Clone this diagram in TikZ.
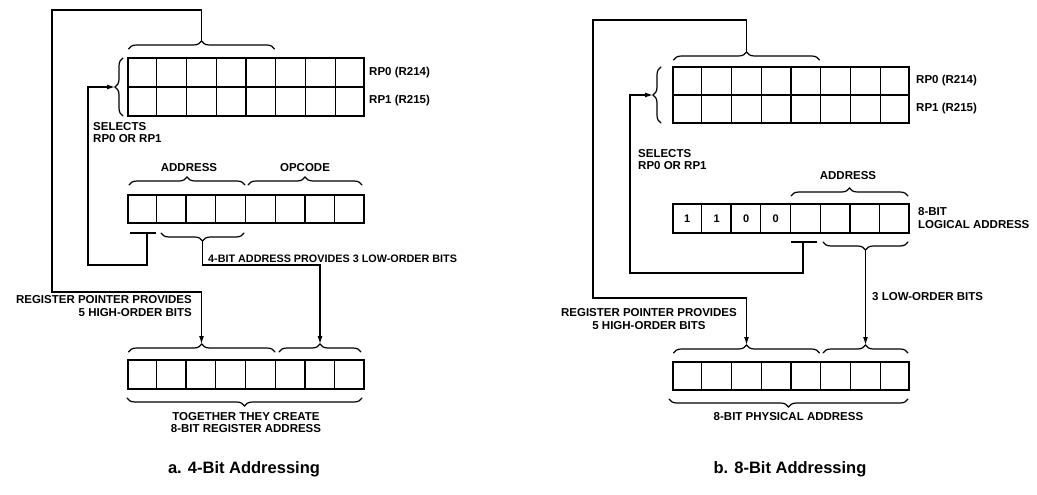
\documentclass[tikz,border=0pt]{standalone}
\usepackage{fontspec}
\setmainfont{Liberation Sans}
\usetikzlibrary{decorations.pathreplacing,arrows.meta,calc}
\newcommand\splitcells[1]{%
  \foreach \i in {1,...,7}{\draw[cell] ($(#1.north west)!{\i/8}!(#1.north east)$) -- ($(#1.south west)!{\i/8}!(#1.south east)$);}}
\begin{document}
\begin{tikzpicture}[x=1pt,y=-1pt,
  lbl/.style={font=\fontsize{11.5}{12.5}\selectfont\bfseries, inner sep=0pt},
  lbls/.style={font=\fontsize{10.8}{12.5}\selectfont\bfseries, inner sep=0pt},
  bitlbl/.style={font=\fontsize{11}{12}\selectfont\bfseries, inner sep=0pt},
  capt/.style={font=\fontsize{16.5}{18}\selectfont\bfseries, inner sep=0pt},
  reg/.style={draw, line width=2pt, inner sep=0pt, minimum width=236pt, minimum height=#1},
  cell/.style={line width=1.2pt},
  brc/.style={decorate, decoration={brace, amplitude=8pt}, line width=1.2pt, line cap=round},
  wire/.style={line width=1.2pt},
  arr/.style={wire, -{Latex[length=8pt,width=5pt]}}
]
\useasboundingbox (0,0) rectangle (1037,495);

%================ (a) =================
\node[reg=58pt] (rpa) at (246,87) {};
\splitcells{rpa}
\draw[cell] (rpa.west) -- (rpa.east);
\node[reg=28pt] (insa) at (245.5,209) {};
\splitcells{insa}
\node[reg=29pt] (resa) at (245.5,374.5) {};
\splitcells{resa}

% braces
\draw[brc] (128.5,49) -- (274.5,49);
\coordinate (atipRP) at (201.5,41);
\draw[brc] (123,116) -- (123,58);
\coordinate (atipSel) at (115,87);
\draw[brc] (129,185) -- (245,185);
\draw[brc] (248,185) -- (362,185);
\draw[wire] (130,233) -- (156,233);
\coordinate (astem) at (147,233);
\draw[brc] (244,233) -- (161,233);
\coordinate (atipLow) at (202.5,241);
\draw[brc] (128.5,352) -- (275,352);
\coordinate (atipHi) at (201.5,344);
\draw[brc] (279,352) -- (361,352);
\coordinate (atipLoR) at (320,344);
\draw[brc] (362,398) -- (127,398);

% wires
\coordinate (aTL) at (52,10);
\coordinate (aBL) at (52,292);
\draw[arr] (atipRP) |- (aTL) -- (aBL) -| (atipHi);
\coordinate (aLL) at (88,265);
\draw[arr] (astem) |- (aLL) |- (atipSel);
\draw[arr] (atipLow) -- ++(0,24) -| (atipLoR);

% labels
\node[lbl] (aAddr) at (189,168) {ADDRESS};
\node[lbl] (aOpc) at (305,168) {OPCODE};
\node[lbl, anchor=west] (aRP0) at (369,73) {RP0 (R214)};
\node[lbl, anchor=west] (aRP1) at (369,101) {RP1 (R215)};
\node[lbl, anchor=north west, align=left] (aSel) at (93,122) {SELECTS\\RP0 OR RP1};
\node[lbls, anchor=base west] (aLowTxt) at (208,262) {4-BIT ADDRESS PROVIDES 3 LOW-ORDER BITS};
\node[lbl, anchor=east, align=right] (aHiTxt) at (192,306) {REGISTER POINTER PROVIDES\\5 HIGH-ORDER BITS};
\node[lbl, anchor=north, align=center] (aTog) at (246,412) {TOGETHER THEY CREATE\\8-BIT REGISTER ADDRESS};
\node[capt] (aCap) at (244,469) {a. 4-Bit Addressing};

%================ (b) =================
\node[reg=56pt] (rpb) at (791,95) {};
\splitcells{rpb}
\draw[cell] (rpb.west) -- (rpb.east);
\node[reg=29pt] (lgb) at (790.5,218.5) {};
\splitcells{lgb}
\node[reg=28pt] (phb) at (791,376) {};
\splitcells{phb}
\node[bitlbl] (bb0) at (687.3,218.5) {1};
\node[bitlbl] (bb1) at (716.8,218.5) {1};
\node[bitlbl] (bb2) at (746.3,218.5) {0};
\node[bitlbl] (bb3) at (775.8,218.5) {0};

% braces
\draw[brc] (673.5,60) -- (819.5,60);
\coordinate (btipRP) at (746.5,52);
\draw[brc] (661,123) -- (661,67);
\coordinate (btipSel) at (653,95);
\draw[brc] (791,196) -- (908,196);
\draw[wire] (791,242) -- (817,242);
\coordinate (bstem) at (803,242);
\draw[brc] (908,242) -- (823,242);
\coordinate (btipLow) at (865.5,250);
\draw[brc] (673.5,353) -- (819.5,353);
\coordinate (btipHi) at (746.5,345);
\draw[brc] (823,353) -- (908,353);
\coordinate (btipLoR) at (865.5,345);
\draw[brc] (908,399) -- (669,399);

% wires
\coordinate (bTL) at (593,20);
\coordinate (bBL) at (593,298);
\draw[arr] (btipRP) |- (bTL) -- (bBL) -| (btipHi);
\coordinate (bLL) at (630,273);
\draw[arr] (bstem) |- (bLL) |- (btipSel);
\draw[arr] (btipLow) -- (btipLoR);

% labels
\node[lbl] (bAddr) at (848,176) {ADDRESS};
\node[lbl, anchor=west] (bRP0) at (916,81) {RP0 (R214)};
\node[lbl, anchor=west] (bRP1) at (916,109) {RP1 (R215)};
\node[lbl, anchor=north west, align=left] (bSel) at (638,149) {SELECTS\\RP0 OR RP1};
\node[lbl, anchor=west, align=left] (bLog) at (918,218) {8-BIT\\LOGICAL ADDRESS};
\node[lbl, anchor=base west] (bLowTxt) at (872,300) {3 LOW-ORDER BITS};
\node[lbl, anchor=east, align=center] (bHiTxt) at (737,319) {REGISTER POINTER PROVIDES\\5 HIGH-ORDER BITS};
\node[lbl, anchor=north] (bPhys) at (788.5,412) {8-BIT PHYSICAL ADDRESS};
\node[capt] (bCap) at (790,469) {b. 8-Bit Addressing};
\end{tikzpicture}
\end{document}
